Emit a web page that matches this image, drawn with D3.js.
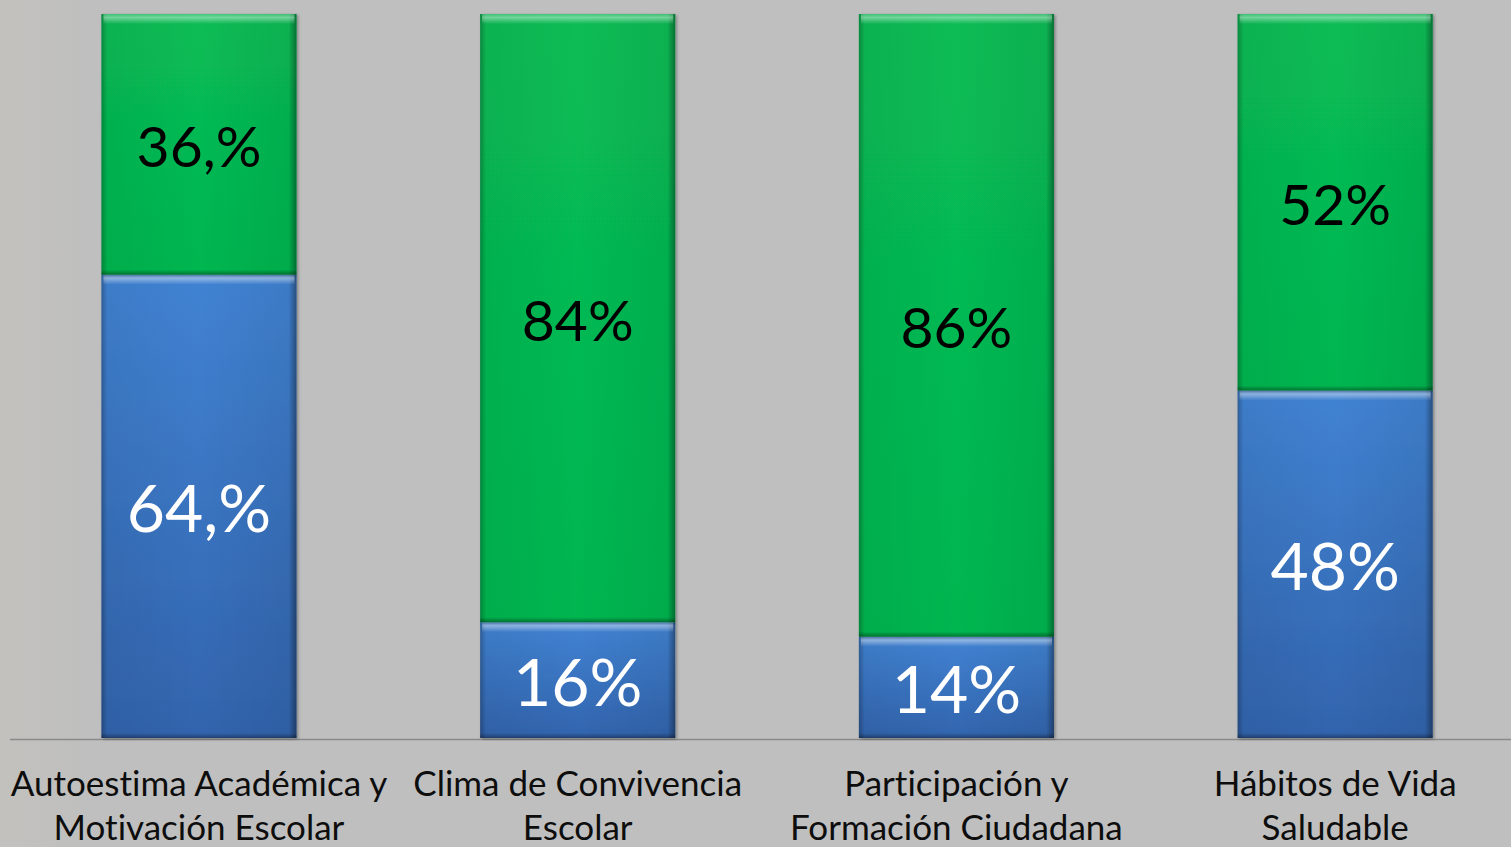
<!DOCTYPE html>
<html>
<head>
<meta charset="utf-8">
<script src="https://cdn.jsdelivr.net/npm/d3@7"></script>
<style>
  html, body { margin: 0; padding: 0; background: #bfbfbf; overflow: hidden; }
  svg { display: block; }
  text { font-variant-ligatures: none; }
</style>
</head>
<body>
<div id="grafico"></div>
<script>
/* barras apiladas al 100%: azul abajo, verde arriba */

const categorias = [
    "Autoestima Académica y|Motivación Escolar",
    "Clima de Convivencia|Escolar",
    "Participación y|Formación Ciudadana",
    "Hábitos de Vida|Saludable"
]
const valoresAzul = [64, 16, 14, 48]
const valoresVerde = [36, 84, 86, 52]
const etiquetasAzul = ["64,%", "16%", "14%", "48%"]
const etiquetasVerde = ["36,%", "84%", "86%", "52%"]

const width = 1511, height = 847

const svg = d3.select("#grafico").append("svg")
    .attr("width", width)
    .attr("height", height)

const defs = svg.append("defs")

// fondo gris con un leve degradado a la izquierda
const gFondo = defs.append("linearGradient").attr("id", "fondo")
    .attr("x1", 0).attr("x2", 1).attr("y1", 0).attr("y2", 0)
gFondo.append("stop").attr("offset", "0%").attr("stop-color", "#c2c1bd")
gFondo.append("stop").attr("offset", "6%").attr("stop-color", "#bfbfbf")
gFondo.append("stop").attr("offset", "100%").attr("stop-color", "#bfbfbf")

svg.append("rect")
    .attr("width", width).attr("height", height)
    .attr("fill", "url(#fondo)")

// degradados de las barras
function degradadoVertical(id, arriba, abajo) {
    const g = defs.append("linearGradient").attr("id", id)
        .attr("x1", 0).attr("x2", 0).attr("y1", 0).attr("y2", 1)
    g.append("stop").attr("offset", "0%").attr("stop-color", arriba)
    g.append("stop").attr("offset", "100%").attr("stop-color", abajo)
}
degradadoVertical("verde", "#08bc55", "#03b650")
degradadoVertical("azul", "#4183d3", "#3264ad")

// bordes laterales oscuros
const gBordes = defs.append("linearGradient").attr("id", "bordes")
    .attr("x1", 0).attr("x2", 1).attr("y1", 0).attr("y2", 0)
gBordes.append("stop").attr("offset", "0%").attr("stop-color", "#000").attr("stop-opacity", 0.28)
gBordes.append("stop").attr("offset", "3%").attr("stop-color", "#000").attr("stop-opacity", 0.05)
gBordes.append("stop").attr("offset", "50%").attr("stop-color", "#000").attr("stop-opacity", 0)
gBordes.append("stop").attr("offset", "96%").attr("stop-color", "#000").attr("stop-opacity", 0.06)
gBordes.append("stop").attr("offset", "100%").attr("stop-color", "#000").attr("stop-opacity", 0.4)

// brillo superior
const gBrillo = defs.append("linearGradient").attr("id", "brillo")
    .attr("x1", 0).attr("x2", 0).attr("y1", 0).attr("y2", 1)
gBrillo.append("stop").attr("offset", "0%").attr("stop-color", "#fff").attr("stop-opacity", 0.2)
gBrillo.append("stop").attr("offset", "35%").attr("stop-color", "#fff").attr("stop-opacity", 0.42)
gBrillo.append("stop").attr("offset", "100%").attr("stop-color", "#fff").attr("stop-opacity", 0)

// sombra inferior
const gSombra = defs.append("linearGradient").attr("id", "sombra")
    .attr("x1", 0).attr("x2", 0).attr("y1", 0).attr("y2", 1)
gSombra.append("stop").attr("offset", "0%").attr("stop-color", "#000").attr("stop-opacity", 0)
gSombra.append("stop").attr("offset", "100%").attr("stop-color", "#000").attr("stop-opacity", 0.35)

const filtro = defs.append("filter").attr("id", "sombraBarra")
    .attr("x", "-5%").attr("y", "-2%").attr("width", "112%").attr("height", "104%")
filtro.append("feDropShadow")
    .attr("dx", 1.5).attr("dy", 1).attr("stdDeviation", 1.5)
    .attr("flood-color", "#000").attr("flood-opacity", 0.35)

const x = d3.scaleBand()
    .domain(categorias)
    .range([9.6, 1524.5])
    .paddingInner(0.485)
    .paddingOuter(0.2425)

const y = d3.scaleLinear()
    .domain([0, 100])
    .range([738, 14])

// eje horizontal
svg.append("line")
    .attr("x1", 10).attr("x2", width)
    .attr("y1", 739.5).attr("y2", 739.5)
    .attr("stroke", "#8a8a8a")
    .attr("stroke-width", 1.5)

// segmentos: [inicio, fin, color, etiqueta, color de texto, tamaño]
const segmentos = []
categorias.forEach((c, i) => {
    segmentos.push({ cat: c, y0: 0, y1: valoresAzul[i], fill: "azul",
        label: etiquetasAzul[i], color: "#ffffff", size: 66 })
    segmentos.push({ cat: c, y0: valoresAzul[i], y1: valoresAzul[i] + valoresVerde[i], fill: "verde",
        label: etiquetasVerde[i], color: "#000000", size: 57 })
})

const barras = svg.append("g")

const seg = barras.selectAll("g.seg")
    .data(segmentos)
    .join("g")
    .attr("class", "seg")
    .attr("transform", d => `translate(${x(d.cat)},${y(d.y1)})`)

seg.append("rect")
    .attr("width", x.bandwidth())
    .attr("height", d => y(d.y0) - y(d.y1))
    .attr("fill", d => `url(#${d.fill})`)
    .attr("filter", "url(#sombraBarra)")

seg.append("rect")
    .attr("width", x.bandwidth())
    .attr("height", d => y(d.y0) - y(d.y1))
    .attr("fill", "url(#bordes)")

seg.append("rect")
    .attr("x", 2)
    .attr("width", x.bandwidth() - 4)
    .attr("height", 10)
    .attr("fill", "url(#brillo)")

seg.append("rect")
    .attr("y", d => y(d.y0) - y(d.y1) - 5)
    .attr("width", x.bandwidth())
    .attr("height", 5)
    .attr("fill", "url(#sombra)")

// etiquetas de valores
seg.append("text")
    .attr("x", x.bandwidth() / 2)
    .attr("y", d => (y(d.y0) - y(d.y1)) / 2 + 2)
    .attr("dy", "0.36em")
    .attr("text-anchor", "middle")
    .attr("font-family", "Lato, 'Open Sans', sans-serif")
    .attr("font-size", d => d.size)
    .attr("fill", d => d.color)
    .text(d => d.label)

// etiquetas de categorías
const etiquetas = svg.append("g")
    .attr("font-family", "Lato, 'Open Sans', sans-serif")
    .attr("font-size", 35)
    .attr("fill", "#0d0d0d")
    .attr("text-anchor", "middle")

etiquetas.selectAll("text")
    .data(categorias)
    .join("text")
    .attr("transform", d => `translate(${x(d) + x.bandwidth() / 2},796)`)
    .selectAll("tspan")
    .data(d => d.split("|"))
    .join("tspan")
    .attr("x", 0)
    .attr("y", (d, i) => i * 44)
    .text(d => d)
</script>
</body>
</html>
